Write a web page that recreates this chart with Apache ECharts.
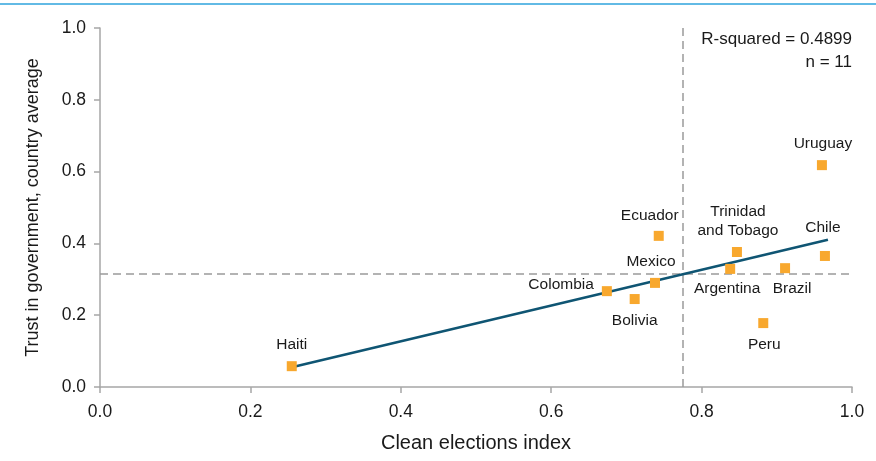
<!DOCTYPE html>
<html>
<head>
<meta charset="utf-8">
<script src="https://cdn.jsdelivr.net/npm/echarts@6/dist/echarts.min.js"></script>
<style>html,body{margin:0;padding:0;background:#fff;}#c{width:876px;height:461px;}</style>
</head>
<body>
<div id="c"></div>
<script>
// Data
const countries = ['Haiti','Colombia','Bolivia','Mexico','Ecuador','Argentina','Trinidad\nand Tobago','Brazil','Peru','Uruguay','Chile'];
const cleanElections = [0.255, 0.674, 0.711, 0.738, 0.743, 0.838, 0.847, 0.911, 0.882, 0.960, 0.964];
const trustGov = [0.058, 0.267, 0.245, 0.290, 0.421, 0.329, 0.376, 0.331, 0.178, 0.618, 0.365];
const fitX = [0.255, 0.968];
const fitY = [0.055, 0.410];
const meanX = 0.775;
const meanY = 0.316;
const rSquaredText = 'R-squared = 0.4899';
const nText = 'n = 11';

// Label placement (style only)
const labelStyle = {
  'Haiti': {position: 'top', offset: [0, -1]},
  'Colombia': {position: 'left', offset: [-2, -6]},
  'Bolivia': {position: 'bottom', offset: [0, 1]},
  'Mexico': {position: 'top', offset: [-4, -1]},
  'Ecuador': {position: 'top', offset: [-9, 0]},
  'Argentina': {position: 'bottom', offset: [-3, -1]},
  'Trinidad\nand Tobago': {position: 'top', offset: [1, -1]},
  'Brazil': {position: 'bottom', offset: [7, 0]},
  'Peru': {position: 'bottom', offset: [1, 1]},
  'Uruguay': {position: 'top', offset: [1, -1]},
  'Chile': {position: 'top', offset: [-2, -8]}
};

const FONT = "'Liberation Sans', Arial, sans-serif";
const TXT = '#1a1a1a';
const pts = countries.map((c, i) => ({
  name: c,
  value: [cleanElections[i], trustGov[i]],
  label: Object.assign({show: true, formatter: '{b}', color: TXT, fontFamily: FONT, fontSize: 15.5, lineHeight: 19}, labelStyle[c])
}));

const chart = echarts.init(document.getElementById('c'));
chart.setOption({
  animation: false,
  backgroundColor: '#fff',
  grid: {left: 100, right: 24, top: 28, bottom: 74, containLabel: false},
  xAxis: {
    type: 'value', min: 0, max: 1, interval: 0.2,
    name: 'Clean elections index', nameLocation: 'middle', nameGap: 46,
    nameTextStyle: {fontFamily: FONT, fontSize: 20, color: TXT},
    axisLine: {show: true, lineStyle: {color: '#a6a6a6', width: 1.5}},
    axisTick: {show: true, length: 6, lineStyle: {color: '#a6a6a6', width: 1.5}},
    axisLabel: {fontFamily: FONT, fontSize: 17.5, color: TXT, margin: 16,
      formatter: v => v.toFixed(1)},
    splitLine: {show: false}
  },
  yAxis: {
    type: 'value', min: 0, max: 1, interval: 0.2,
    name: 'Trust in government, country average', nameLocation: 'middle', nameGap: 58,
    nameTextStyle: {fontFamily: FONT, fontSize: 18, color: TXT},
    axisLine: {show: true, lineStyle: {color: '#a6a6a6', width: 1.5}},
    axisTick: {show: true, length: 6, lineStyle: {color: '#a6a6a6', width: 1.5}},
    axisLabel: {fontFamily: FONT, fontSize: 17.5, color: TXT, margin: 14,
      formatter: v => v.toFixed(1)},
    splitLine: {show: false}
  },
  graphic: [
    {type: 'line', shape: {x1: 0, y1: 4, x2: 876, y2: 4}, style: {stroke: '#2ea3dc', lineWidth: 1.5}},
    {type: 'text', right: 24, top: 31, style: {text: rSquaredText, textAlign: 'right',
      font: "17px 'Liberation Sans', Arial, sans-serif", fill: TXT}},
    {type: 'text', right: 24, top: 54, style: {text: nText, textAlign: 'right',
      font: "17px 'Liberation Sans', Arial, sans-serif", fill: TXT}}
  ],
  series: [
    {
      type: 'line',
      data: fitX.map((x, i) => [x, fitY[i]]),
      showSymbol: false, symbol: 'none',
      lineStyle: {color: '#0f5573', width: 2.5},
      z: 3
    },
    {
      type: 'scatter',
      data: pts,
      symbol: 'rect', symbolSize: 10,
      itemStyle: {color: '#f8a82e', opacity: 1},
      label: {distance: 6},
      z: 4,
      markLine: {
        silent: true, symbol: 'none', z: 1,
        lineStyle: {color: '#9a9a9a', type: [8, 5], width: 1.5},
        label: {show: false},
        emphasis: {disabled: true},
        data: [
          [{coord: [meanX, 0]}, {coord: [meanX, 1]}],
          [{coord: [0, meanY]}, {coord: [1, meanY]}]
        ]
      }
    }
  ]
});
</script>
</body>
</html>
